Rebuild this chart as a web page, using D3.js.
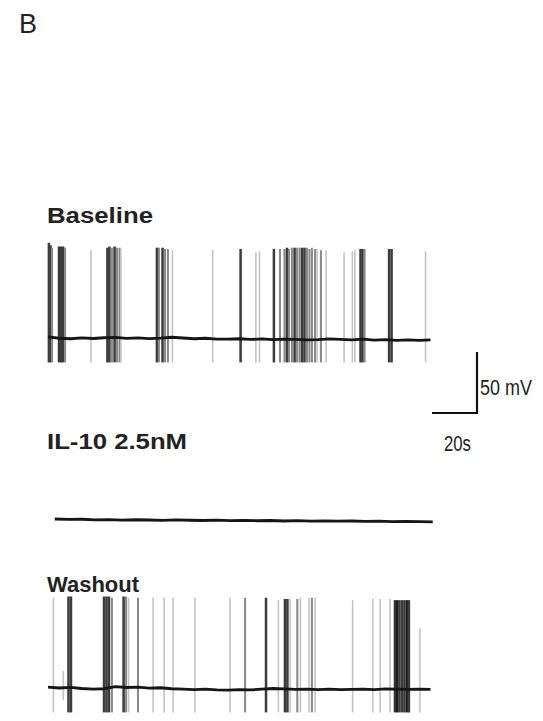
<!DOCTYPE html>
<html>
<head>
<meta charset="utf-8">
<script src="https://cdn.jsdelivr.net/npm/d3@7/dist/d3.min.js"></script>
<style>
  body { margin: 0; background: #fff; }
  svg { display: block; }
</style>
</head>
<body>
<div id="svg1"></div>
<script>
// spike events: [time (s), overlapping spikes, peak (mV)]
const baselineSpikes = [
  [0.4, 3, 18], [1.1, 3, 16], [1.8, 2, 14], [4.9, 3, 15], [5.8, 3, 15], [6.7, 3, 15], [7.6, 2, 14],
  [19.1, 1, 12],
  [26.4, 3, 14], [27.3, 3, 15], [28.4, 2, 14], [29.6, 3, 15], [30.7, 2, 14], [31.8, 2, 14], [32.4, 1, 13],
  [48.4, 3, 14], [49.3, 2, 14], [50.9, 3, 14], [52.0, 2, 13], [53.3, 2, 13], [55.3, 1, 12],
  [73.2, 1, 12], [85.6, 3, 13], [92.4, 1, 10], [94.0, 1, 11],
  [100.4, 3, 13], [103.1, 2, 13], [105.1, 2, 13], [106.2, 3, 14], [107.1, 2, 13], [108.4, 2, 14],
  [109.6, 3, 14], [110.7, 2, 14], [111.8, 2, 14], [112.9, 3, 14], [114.0, 3, 14], [115.1, 2, 14],
  [116.2, 2, 13], [117.3, 2, 14], [118.7, 2, 13], [119.6, 1, 13], [121.3, 2, 12], [123.6, 1, 12],
  [131.6, 1, 10], [135.3, 1, 11], [136.4, 1, 12], [138.9, 3, 13], [139.8, 3, 13], [140.7, 2, 13],
  [151.6, 3, 13], [152.7, 3, 13], [167.8, 1, 11]
];
const washoutSpikes = [
  [2.4, 1, 14], [6.8, 1, -46], [9.1, 3, 15], [10.2, 3, 15],
  [24.9, 3, 15], [26.0, 3, 15], [27.1, 3, 15], [28.4, 2, 14],
  [33.6, 3, 15], [34.7, 2, 15], [35.8, 1, 14], [40.0, 2, 14],
  [46.7, 1, 14], [51.6, 1, 14], [55.6, 1, 14], [65.3, 1, 14], [80.9, 1, 14], [87.6, 2, 14],
  [96.9, 3, 14], [102.4, 1, 12], [105.3, 3, 13], [106.4, 3, 13], [107.6, 1, 13], [110.8, 2, 13],
  [112.2, 1, 14], [116.0, 1, 14], [117.3, 2, 14], [118.7, 1, 14],
  [135.4, 1, 12], [144.4, 1, 13], [147.6, 1, 13], [152.0, 1, 13],
  [154.2, 3, 12], [155.1, 4, 12], [156.2, 3, 12], [157.3, 3, 12], [158.4, 3, 12], [159.6, 4, 12],
  [160.4, 3, 12], [165.3, 1, -11]
];

// membrane potential between spikes, sampled every 5 s (mV)
const traceTimes = d3.range(0, 171, 5);
const baselineVm = [-59.0, -60.2, -60.6, -59.9, -60.4, -59.8, -59.5, -60.3, -59.9, -60.5,
  -60.1, -59.4, -60.0, -60.6, -60.2, -60.9, -61.0, -60.6, -61.2, -60.8,
  -61.4, -60.9, -61.1, -61.6, -61.3, -60.7, -61.2, -61.5, -61.0, -61.7,
  -61.4, -61.9, -61.5, -62.0, -61.6];
const washoutVm = [-59.2, -60.0, -59.5, -60.4, -60.9, -60.6, -58.9, -59.6, -59.2, -60.1,
  -59.8, -60.6, -60.9, -61.3, -61.0, -61.5, -61.7, -61.4, -61.6, -60.9,
  -60.4, -60.8, -61.1, -60.9, -61.3, -61.0, -61.4, -61.2, -60.9, -61.3,
  -60.8, -61.0, -61.2, -60.9, -61.1];
const il10Times = d3.range(3, 172, 6);
const il10Vm = [-59.2, -59.5, -59.4, -59.9, -59.7, -60.1, -59.8, -60.0, -60.3, -59.9,
  -60.2, -60.4, -60.1, -60.5, -60.3, -60.6, -60.4, -60.8, -60.5, -60.9,
  -60.7, -61.0, -60.8, -61.2, -61.0, -61.3, -61.1, -61.4, -61.5];

const spikeTrough = -80;   // mV, after-hyperpolarisation
const restVm = -60;
const scaleTime = 20;      // s
const scaleVolt = 50;      // mV

const svgWidth = 543, svgHeight = 721;
const svg = d3.select('#svg1').append('svg').attr('width', svgWidth).attr('height', svgHeight);

const xScale = d3.scaleLinear().domain([0, 170]).range([48, 430.5]);
// 50 mV = 61 px, rest potential at 0 of each panel
const yScale = d3.scaleLinear().domain([restVm, restVm + scaleVolt]).range([0, -61]);

const shade = d3.scaleOrdinal().domain([1, 2, 3, 4]).range(['#c4c4c4', '#8a8a8a', '#3c3c3c', '#1e1e1e']);
const spikeWidth = d3.scaleLinear().domain([1, 4]).range([1.6, 3]);

const labelFont = '"Liberation Sans", Arial, sans-serif';

function drawPanel(y0, label, labelY, labelLen, times, vm, spikes) {
  const g = svg.append('g').attr('transform', `translate(0, ${y0})`);

  g.selectAll('.spike')
    .data(spikes)
    .join('line')
    .attr('class', 'spike')
    .attr('x1', d => xScale(d[0]))
    .attr('x2', d => xScale(d[0]))
    .attr('y1', d => yScale(d[2]))
    .attr('y2', d => d[2] < -20 ? yScale(-70) : yScale(spikeTrough))
    .attr('stroke', d => shade(d[1]))
    .attr('stroke-width', d => spikeWidth(d[1]));

  g.append('path')
    .datum(d3.zip(times, vm))
    .attr('d', d3.line().x(d => xScale(d[0])).y(d => yScale(d[1])))
    .attr('fill', 'none')
    .attr('stroke', '#151515')
    .attr('stroke-width', 2.8)
    .attr('stroke-linejoin', 'round');

  svg.append('text')
    .attr('x', 47)
    .attr('y', labelY)
    .attr('textLength', labelLen)
    .attr('lengthAdjust', 'spacingAndGlyphs')
    .style('font-family', labelFont)
    .style('font-weight', 'bold')
    .style('font-size', '22px')
    .style('fill', '#222')
    .text(label);
}

drawPanel(338, 'Baseline', 223, 106, traceTimes, baselineVm, baselineSpikes);
drawPanel(520, 'IL-10 2.5nM', 449, 140, il10Times, il10Vm, []);
drawPanel(688, 'Washout', 592, 92, traceTimes, washoutVm, washoutSpikes);

// panel letter
svg.append('text')
  .attr('x', 19)
  .attr('y', 33)
  .style('font-family', labelFont)
  .style('font-size', '27px')
  .style('fill', '#222')
  .text('B');

// scale bar
const bar = svg.append('g').attr('transform', 'translate(477, 413)');
const barW = xScale(scaleTime) - xScale(0);
const barH = yScale(restVm) - yScale(restVm + scaleVolt);
bar.append('path')
  .attr('d', `M${-barW},0H0V${-barH}`)
  .attr('fill', 'none')
  .attr('stroke', '#111')
  .attr('stroke-width', 2.2);
bar.append('text')
  .attr('x', 3)
  .attr('y', -18)
  .attr('textLength', 52)
  .attr('lengthAdjust', 'spacingAndGlyphs')
  .style('font-family', '"Liberation Sans Narrow", "Liberation Sans", sans-serif')
  .style('font-size', '22px')
  .style('fill', '#222')
  .text(`${scaleVolt} mV`);
bar.append('text')
  .attr('x', -33)
  .attr('y', 38)
  .attr('textLength', 27)
  .attr('lengthAdjust', 'spacingAndGlyphs')
  .style('font-family', '"Liberation Sans Narrow", "Liberation Sans", sans-serif')
  .style('font-size', '22px')
  .style('fill', '#222')
  .text(`${scaleTime}s`);
</script>
</body>
</html>
